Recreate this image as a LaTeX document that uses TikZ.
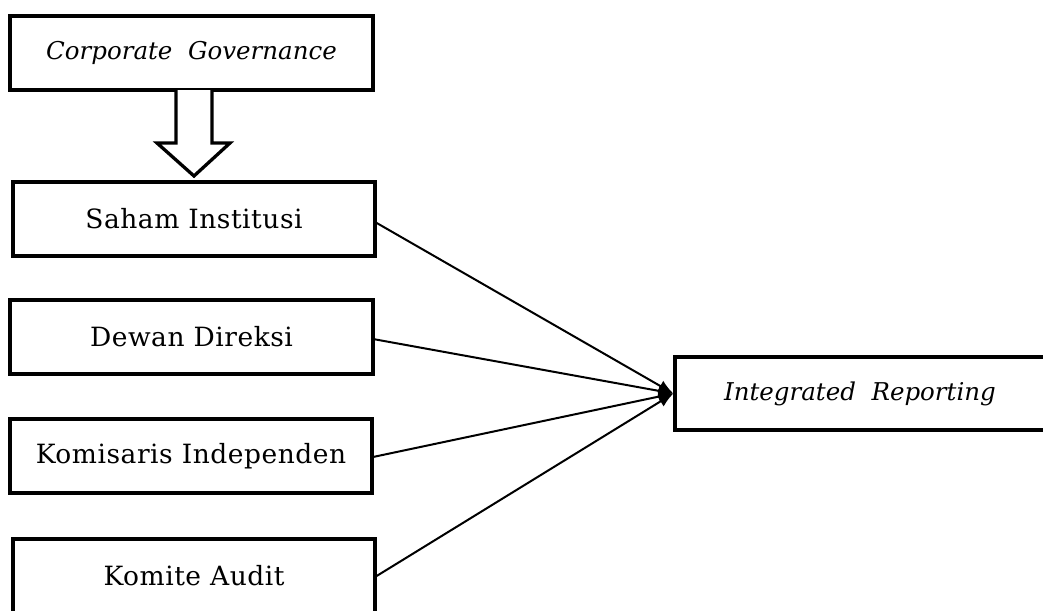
\documentclass[tikz,border=0pt]{standalone}
\usepackage{fontspec}
\setmainfont{DejaVu Serif}
\newfontfamily\spaced[LetterSpace=2]{DejaVu Serif}
\usetikzlibrary{arrows.meta}
\begin{document}
\begin{tikzpicture}[x=1pt,y=-1pt,
  box/.style={draw,line width=3.3pt,rectangle,inner sep=0pt,font=\fontsize{24.5}{28}\selectfont},
  up/.style={font=\fontsize{26.5}{30}\spaced},
  link/.style={line width=2pt,-{Latex[length=15pt,width=12pt]}}]
\useasboundingbox (0,0) rectangle (1043,610);
\node[box,minimum width=363pt,minimum height=74pt] (cg) at (191.5,53) {\itshape Corporate\ \ Governance};
\node[box,up,minimum width=362pt,minimum height=74pt] (si) at (194,219) {\raisebox{-3pt}{Saham Institusi}};
\node[box,up,minimum width=363pt,minimum height=74pt] (dd) at (191.5,337) {\raisebox{-2pt}{Dewan Direksi}};
\node[box,up,minimum width=362pt,minimum height=74pt] (ki) at (191,456) {\raisebox{-2pt}{Komisaris Independen}};
\node[box,up,minimum width=362pt,minimum height=74pt] (ka) at (194,576) {\raisebox{-3pt}{Komite Audit}};
\node[box,minimum width=370pt,minimum height=73pt] (ir) at (860,393.5) {\itshape Integrated\ \ Reporting};
\coordinate (tip) at (194,176);
\draw[line width=3.3pt,line join=miter,fill=white]
  (176,90) -- (176,143) -- (157,143) -- (tip) -- (230,143) -- (212,143) -- (212,90);
\coordinate (c) at (ir.west);
\draw[link] (375,222) -- (c);
\draw[link] (373,339) -- (c);
\draw[link] (373,457) -- (c);
\draw[link] (375,577) -- (c);
\end{tikzpicture}
\end{document}
